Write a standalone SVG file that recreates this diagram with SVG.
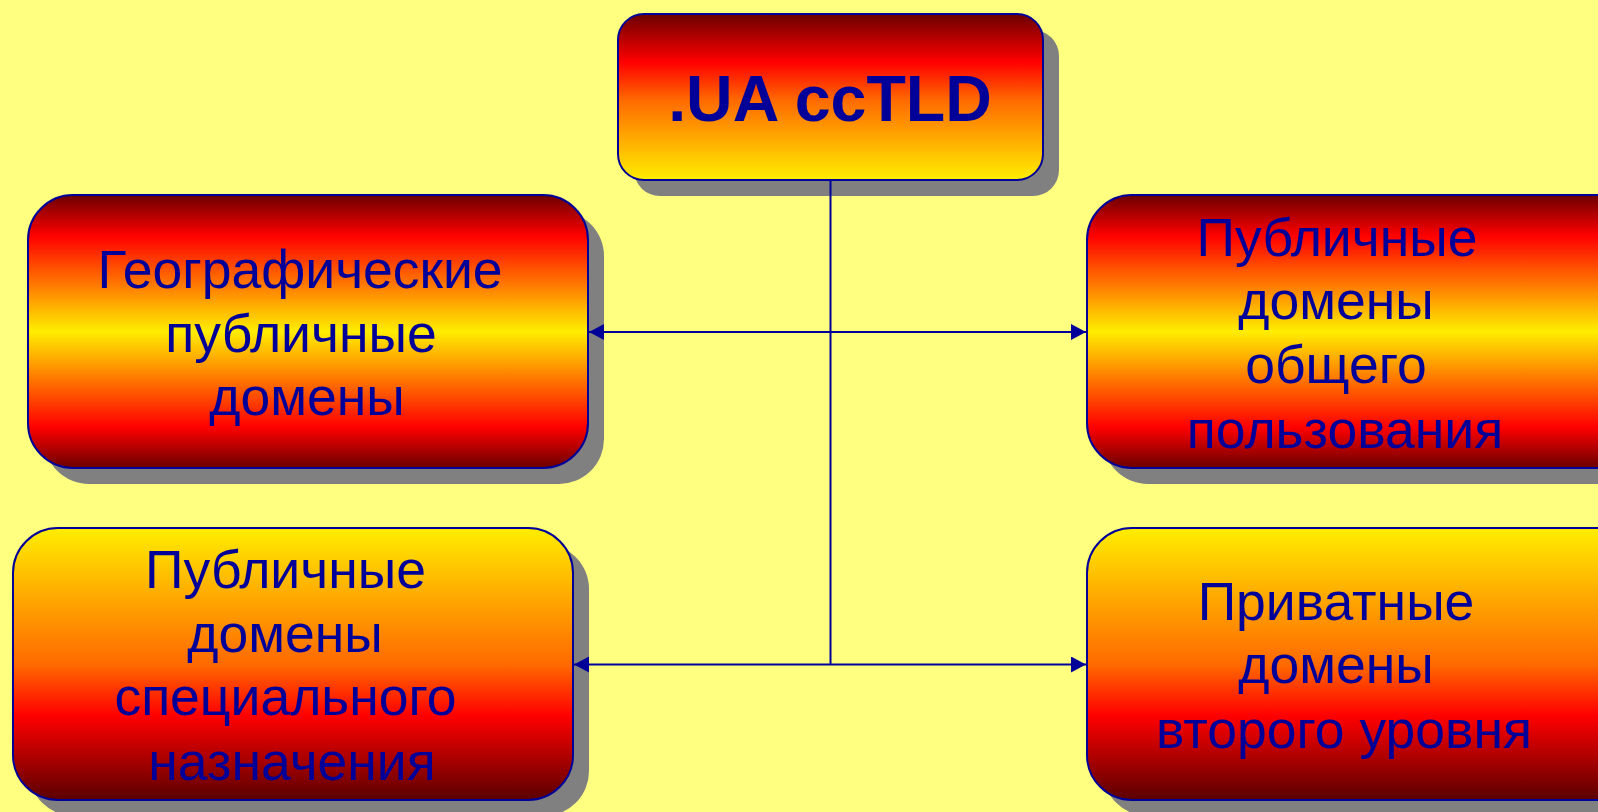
<svg xmlns="http://www.w3.org/2000/svg" width="1598" height="812" viewBox="0 0 1598 812">
<defs>
<style>
.shadow{fill:#808080}
.box{stroke:#000099;stroke-width:2}
.t{font-family:"Liberation Sans",Arial,sans-serif;font-size:53.5px;fill:#000099;text-anchor:middle}
.title{font-family:"Liberation Sans",Arial,sans-serif;font-size:64.5px;font-weight:bold;fill:#000099;text-anchor:middle}
.conn{stroke:#000099;stroke-width:2;fill:none}
</style>
<linearGradient id="gTop" x1="0" y1="0" x2="0" y2="1">
<stop offset="0" stop-color="#6b0000"/>
<stop offset="0.29" stop-color="#ff0000"/>
<stop offset="0.52" stop-color="#ff6a00"/>
<stop offset="0.75" stop-color="#ffaa00"/>
<stop offset="1" stop-color="#ffee00"/>
</linearGradient>
<linearGradient id="gMid" x1="0" y1="0" x2="0" y2="1">
<stop offset="0" stop-color="#6b0000"/>
<stop offset="0.15" stop-color="#ff0000"/>
<stop offset="0.5" stop-color="#ffee00"/>
<stop offset="0.85" stop-color="#ff0000"/>
<stop offset="1" stop-color="#6b0000"/>
</linearGradient>
<linearGradient id="gBot" x1="0" y1="0" x2="0" y2="1">
<stop offset="0" stop-color="#ffee00"/>
<stop offset="0.25" stop-color="#ffaa00"/>
<stop offset="0.5" stop-color="#ff6a00"/>
<stop offset="0.69" stop-color="#ff0000"/>
<stop offset="1" stop-color="#5a0000"/>
</linearGradient>
<marker id="arr" markerUnits="userSpaceOnUse" markerWidth="16" markerHeight="17" refX="15" refY="8" orient="auto-start-reverse">
<path d="M0,0 L15,8 L0,16 z" fill="#000099"/>
</marker>
</defs>
<rect width="1598" height="812" fill="#ffff80"/>

<g id="root">
<rect class="shadow" x="634" y="30" width="425" height="166" rx="26"/>
<rect class="box" x="618" y="14" width="425" height="166" rx="26" fill="url(#gTop)"/>
<text class="title" x="830" y="121">.UA ccTLD</text>
</g>

<g id="geo">
<rect class="shadow" x="44" y="211" width="560" height="273" rx="45"/>
<rect class="box" x="28" y="195" width="560" height="273" rx="45" fill="url(#gMid)"/>
<text class="t" x="300" y="288">Географические</text>
<text class="t" x="301" y="352">публичные</text>
<text class="t" x="307" y="415">домены</text>
</g>

<g id="public-general">
<rect class="shadow" x="1103" y="211" width="560" height="273" rx="45"/>
<rect class="box" x="1087" y="195" width="560" height="273" rx="45" fill="url(#gMid)"/>
<text class="t" x="1337" y="256">Публичные</text>
<text class="t" x="1336" y="319">домены</text>
<text class="t" x="1336" y="383">общего</text>
<text class="t" x="1345" y="448">пользования</text>
</g>

<g id="public-special">
<rect class="shadow" x="29" y="544" width="560" height="272" rx="45"/>
<rect class="box" x="13" y="528" width="560" height="272" rx="45" fill="url(#gBot)"/>
<text class="t" x="285.5" y="588">Публичные</text>
<text class="t" x="285" y="652">домены</text>
<text class="t" x="285.5" y="715">специального</text>
<text class="t" x="292" y="780">назначения</text>
</g>

<g id="private">
<rect class="shadow" x="1103" y="544" width="560" height="272" rx="45"/>
<rect class="box" x="1087" y="528" width="560" height="272" rx="45" fill="url(#gBot)"/>
<text class="t" x="1336" y="620">Приватные</text>
<text class="t" x="1336" y="683">домены</text>
<text class="t" x="1344" y="748">второго уровня</text>
</g>

<g id="connectors">
<line class="conn" x1="830.5" y1="181" x2="830.5" y2="664.5"/>
<line class="conn" x1="589" y1="332" x2="1086" y2="332" marker-start="url(#arr)" marker-end="url(#arr)"/>
<line class="conn" x1="574" y1="664.5" x2="1086" y2="664.5" marker-start="url(#arr)" marker-end="url(#arr)"/>
</g>
</svg>
